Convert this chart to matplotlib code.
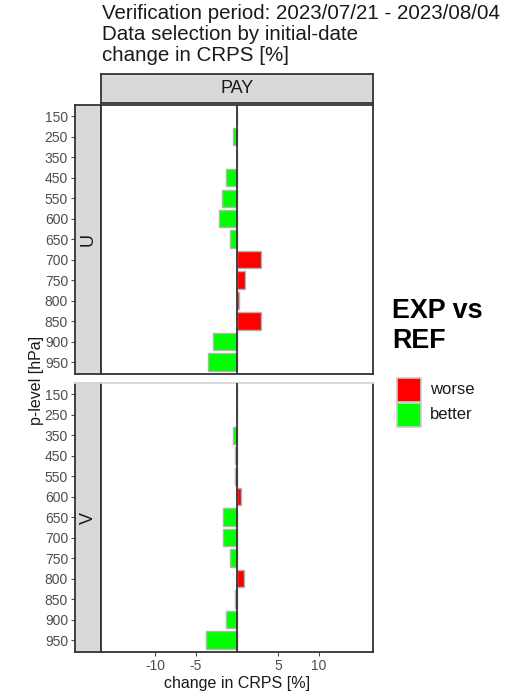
import matplotlib
matplotlib.use("Agg")
import matplotlib.pyplot as plt
import numpy as np

plt.rcParams['font.family'] = ['Liberation Sans', 'DejaVu Sans']

# pressure levels (top to bottom)
levels = [150, 250, 350, 450, 550, 600, 650, 700, 750, 800, 850, 900, 950]
# change in CRPS [%] per level
u_change = [0.05, -0.45, 0.0, -1.35, -1.8, -2.2, -0.8, 2.9, 1.0, 0.25, 2.9, -2.9, -3.6]
v_change = [0.05, 0.02, -0.5, -0.25, -0.28, 0.5, -1.65, -1.75, -0.8, 0.9, -0.25, -1.3, -3.8]
panels = ['U', 'V']
column = 'PAY'
xticks = [-10, -5, 5, 10]

W, H = 506, 695
fig = plt.figure(figsize=(W / 100, H / 100), dpi=100)


def box(x0, y0, x1, y1):
    # pixel box (top-left origin) -> figure fraction
    return [x0 / W, 1 - y1 / H, (x1 - x0) / W, (y1 - y0) / H]


edge = '#333333'
light = '#d6d6d6'
strip_col = '#d9d9d9'
tick_col = '#4d4d4d'
txt_col = '#1a1a1a'

rows = [(105, 374), (383, 652)]
ypos = np.arange(len(levels))

for k, (name, vals) in enumerate(zip(panels, [u_change, v_change])):
    y0, y1 = rows[k]
    strip = fig.add_axes(box(75, y0, 101, y1))
    ax = fig.add_axes(box(101, y0, 373, y1))

    vals = np.array(vals)
    cols = np.where(vals > 0, '#ff0000', '#00ff00')
    ax.barh(ypos, vals, height=0.85, color=cols, edgecolor='#b3b3b3', linewidth=1.0, zorder=2)
    ax.axvline(0, color=edge, lw=1.3, zorder=3)
    ax.set_xlim(-16.6, 16.6)
    ax.set_ylim(12.58, -0.55)
    ax.set_yticks([])

    strip.set_facecolor(strip_col)
    strip.set_ylim(12.58, -0.55)
    strip.set_xticks([])
    strip.set_yticks(ypos)
    strip.set_yticklabels([str(l) for l in levels], fontsize=10, color=tick_col)
    strip.tick_params(axis='y', length=3, color=tick_col, pad=2)
    strip.text(0.5, 0.5, name, rotation=90, ha='center', va='center',
               fontsize=13, color=txt_col, transform=strip.transAxes)

    for a in (ax, strip):
        for s in a.spines.values():
            s.set_color(edge)
            s.set_linewidth(1.3)
        if k == 1:
            a.spines['top'].set_color(light)

    if k == 1:
        ax.set_xticks(xticks)
        ax.set_xticklabels([str(t) for t in xticks], fontsize=10, color=tick_col)
        ax.tick_params(axis='x', length=3, color=tick_col, pad=2)
        ax.set_xlabel('change in CRPS [%]', fontsize=11.5, color=txt_col, labelpad=2)
    else:
        ax.set_xticks([])

# column strip
top = fig.add_axes(box(101, 74, 373, 103))
top.set_facecolor(strip_col)
top.set_xticks([])
top.set_yticks([])
for s in top.spines.values():
    s.set_color(edge)
    s.set_linewidth(1.3)
top.text(0.5, 0.5, column, ha='center', va='center', fontsize=13, color=txt_col,
         transform=top.transAxes)

fig.text(37 / W, 1 - 380 / H, 'p-level [hPa]', rotation=90, ha='center', va='center',
         fontsize=11.5, color=txt_col)

fig.text(102 / W, 1 - 4 / H,
         'Verification period: 2023/07/21 - 2023/08/04\nData selection by initial-date\nchange in CRPS [%]',
         ha='left', va='top', fontsize=14.8, color=txt_col, linespacing=1.12)

fig.text(392 / W, 1 - 326 / H, 'EXP vs\nREF', ha='left', va='center', fontsize=19.4,
         fontweight='bold', color='black', linespacing=1.2)

# legend
for i, (lab, c) in enumerate([('worse', '#ff0000'), ('better', '#00ff00')]):
    yc = 390 + i * 25
    fig.patches.append(plt.Rectangle((397 / W, 1 - (yc + 12) / H), 24 / W, 24 / H,
                                     facecolor=c, edgecolor='#cccccc', lw=1.2,
                                     transform=fig.transFigure, figure=fig))
    fig.text(430 / W, 1 - yc / H, lab, ha='left', va='center', fontsize=12, color=txt_col)

fig.savefig('out.png', dpi=100)
